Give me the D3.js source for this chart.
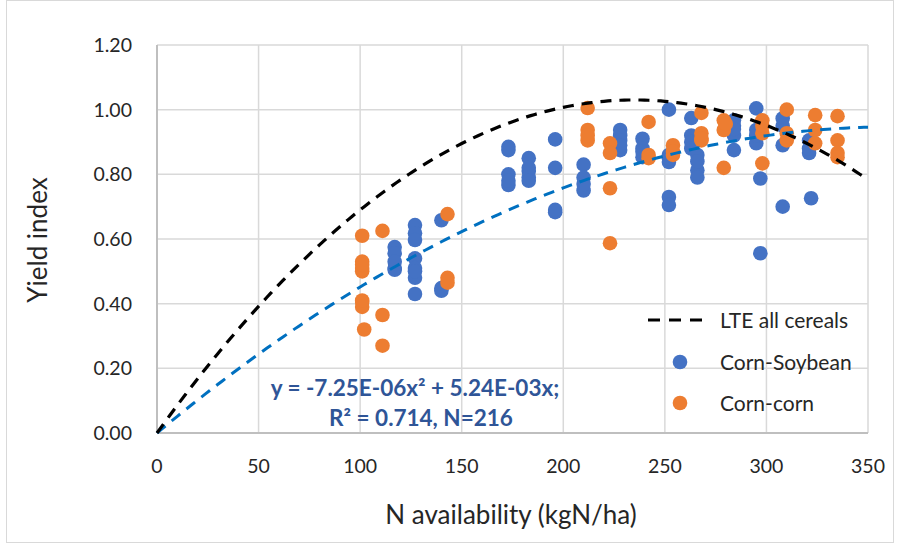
<!DOCTYPE html>
<html>
<head>
<meta charset="utf-8">
<script src="https://cdn.jsdelivr.net/npm/d3@7"></script>
<style>
  body { margin: 0; background: #fff; }
  svg text { font-family: Lato, "Open Sans", sans-serif; }
</style>
</head>
<body>
<div id="chart"></div>
<script>
// Corn-Soybean points (N availability, yield index)
const soyN = [117, 117, 117, 117, 117,
    127, 127, 127, 127, 127, 127, 127, 127,
    140, 140, 140,
    173, 173, 173, 173, 173,
    183, 183, 183, 183, 183,
    196, 196, 196, 196,
    210, 210, 210, 210,
    228, 228, 228, 228, 228,
    239, 239, 239, 239,
    252, 252, 252, 252, 252, 252,
    263, 263, 263, 263,
    266, 266, 266, 266,
    284, 284, 284, 284, 284,
    295, 295, 295, 295, 297, 297,
    308, 308, 308, 308,
    321, 321, 322, 321];
const soyYield = [0.575, 0.556, 0.51, 0.505, 0.53,
    0.643, 0.618, 0.597, 0.54, 0.51, 0.48, 0.43, 0.50,
    0.658, 0.448, 0.44,
    0.885, 0.875, 0.80, 0.767, 0.78,
    0.85, 0.81, 0.79, 0.82, 0.78,
    0.908, 0.82, 0.683, 0.69,
    0.83, 0.79, 0.75, 0.77,
    0.937, 0.92, 0.905, 0.875, 0.89,
    0.91, 0.853, 0.88, 0.87,
    1.0, 0.838, 0.85, 0.73, 0.705, 0.86,
    0.974, 0.92, 0.90, 0.88,
    0.86, 0.813, 0.79, 0.84,
    0.967, 0.92, 0.875, 0.95, 0.94,
    1.004, 0.937, 0.896, 0.92, 0.787, 0.556,
    0.973, 0.89, 0.70, 0.95,
    0.905, 0.866, 0.726, 0.88];

// Corn-corn points
const cornN = [101, 101, 101, 101, 101, 101, 102, 101, 101,
    111, 111, 111,
    143, 143, 143,
    212, 212, 212, 212,
    223, 223, 223, 223,
    242, 242, 242,
    254, 254, 254,
    268, 268, 268, 268,
    279, 279, 279, 280,
    298, 298, 298, 298,
    310, 310, 310,
    324, 324, 324,
    335, 335, 335, 335];
const cornYield = [0.61, 0.53, 0.51, 0.50, 0.405, 0.39, 0.32, 0.52, 0.41,
    0.625, 0.365, 0.27,
    0.677, 0.48, 0.465,
    1.005, 0.937, 0.905, 0.92,
    0.896, 0.866, 0.757, 0.587,
    0.962, 0.86, 0.85,
    0.89, 0.86, 0.87,
    0.99, 0.927, 0.905, 0.91,
    0.967, 0.937, 0.82, 0.956,
    0.967, 0.927, 0.834, 0.95,
    1.0, 0.927, 0.905,
    0.983, 0.937, 0.896,
    0.98, 0.905, 0.866, 0.853];

// quadratic curve coefficients [a, b] for y = a x^2 + b x
const lteCoef = [-1.865e-5, 8.766e-3];
const fitCoef = [-7.25e-6, 5.24e-3];

const xTicks = [0, 50, 100, 150, 200, 250, 300, 350];
const yTicks = [0, 0.2, 0.4, 0.6, 0.8, 1.0, 1.2];
const legendLabels = ['LTE all cereals', 'Corn-Soybean', 'Corn-corn'];
const equationLines = ['y = -7.25E-06x\u00b2 + 5.24E-03x;', 'R\u00b2 = 0.714, N=216'];

const width = 901, height = 545;
const margin = { top: 45, right: 33, bottom: 112, left: 157 };
const textColor = '#262626';

const svg = d3.select('#chart')
    .append('svg')
    .attr('width', width)
    .attr('height', height);

// outer chart frame
svg.append('rect')
    .attr('x', 6.5).attr('y', 0.5)
    .attr('width', 887).attr('height', 542)
    .attr('fill', '#fff')
    .attr('stroke', '#d9d9d9');

const x = d3.scaleLinear().domain([0, 350]).range([margin.left, width - margin.right]);
const y = d3.scaleLinear().domain([0, 1.2]).range([height - margin.bottom, margin.top]);

// gridlines
svg.append('g')
    .selectAll('line')
    .data(xTicks)
    .join('line')
    .attr('x1', d => x(d)).attr('x2', d => x(d))
    .attr('y1', y(0)).attr('y2', y(1.2))
    .attr('stroke', '#d9d9d9').attr('stroke-width', 1.5);

svg.append('g')
    .selectAll('line')
    .data(yTicks)
    .join('line')
    .attr('x1', x(0)).attr('x2', x(350))
    .attr('y1', d => y(d)).attr('y2', d => y(d))
    .attr('stroke', '#d9d9d9').attr('stroke-width', 1.5);

// axes lines
svg.append('line')
    .attr('x1', x(0)).attr('x2', x(0)).attr('y1', y(0)).attr('y2', y(1.2))
    .attr('stroke', '#bfbfbf').attr('stroke-width', 2);
svg.append('line')
    .attr('x1', x(0)).attr('x2', x(350)).attr('y1', y(0)).attr('y2', y(0))
    .attr('stroke', '#bfbfbf').attr('stroke-width', 2);

// tick labels
svg.append('g')
    .selectAll('text')
    .data(yTicks)
    .join('text')
    .attr('x', 132)
    .attr('y', d => y(d) + 7)
    .attr('text-anchor', 'end')
    .attr('font-size', 19.5)
    .attr('fill', textColor)
    .text(d => d3.format('.2f')(d));

svg.append('g')
    .selectAll('text')
    .data(xTicks)
    .join('text')
    .attr('x', d => x(d))
    .attr('y', y(0) + 40)
    .attr('text-anchor', 'middle')
    .attr('font-size', 19.5)
    .attr('fill', textColor)
    .text(d => d);

// axis titles
svg.append('text')
    .attr('x', 511).attr('y', 524)
    .attr('text-anchor', 'middle')
    .attr('font-size', 26)
    .attr('fill', textColor)
    .text('N availability (kgN/ha)');

svg.append('text')
    .attr('transform', `translate(47, 240) rotate(-90)`)
    .attr('text-anchor', 'middle')
    .attr('font-size', 26)
    .attr('fill', textColor)
    .text('Yield index');

// points
const soyData = soyN.map((n, i) => ({ n, v: soyYield[i] }));
const cornData = cornN.map((n, i) => ({ n, v: cornYield[i] }));

svg.append('g')
    .selectAll('circle')
    .data(soyData)
    .join('circle')
    .attr('cx', d => x(d.n))
    .attr('cy', d => y(d.v))
    .attr('r', 7.3)
    .attr('fill', '#4472c4');

svg.append('g')
    .selectAll('circle')
    .data(cornData)
    .join('circle')
    .attr('cx', d => x(d.n))
    .attr('cy', d => y(d.v))
    .attr('r', 7.3)
    .attr('fill', '#ed7d31');

// curves
const curveX = d3.range(0, 351, 2);
const line = d3.line().x(d => x(d[0])).y(d => y(d[1]));

svg.append('path')
    .datum(curveX.map(n => [n, fitCoef[0] * n * n + fitCoef[1] * n]))
    .attr('d', line)
    .attr('fill', 'none')
    .attr('stroke', '#0070c0')
    .attr('stroke-width', 3)
    .attr('stroke-dasharray', '11,8');

svg.append('path')
    .datum(curveX.map(n => [n, lteCoef[0] * n * n + lteCoef[1] * n]))
    .attr('d', line)
    .attr('fill', 'none')
    .attr('stroke', '#000')
    .attr('stroke-width', 3.2)
    .attr('stroke-dasharray', '11,8');

// equation text
svg.append('g')
    .selectAll('text')
    .data(equationLines)
    .join('text')
    .attr('x', (d, i) => i === 0 ? 415 : 421)
    .attr('y', (d, i) => 396 + i * 30)
    .attr('text-anchor', 'middle')
    .attr('font-size', 22.5)
    .attr('font-weight', 'bold')
    .attr('fill', '#2f5597')
    .text(d => d);

// legend
const legend = svg.append('g');
legend.append('line')
    .attr('x1', 648).attr('x2', 710).attr('y1', 320).attr('y2', 320)
    .attr('stroke', '#000').attr('stroke-width', 3.2)
    .attr('stroke-dasharray', '12,9');
legend.append('circle').attr('cx', 680).attr('cy', 362).attr('r', 7.3).attr('fill', '#4472c4');
legend.append('circle').attr('cx', 680).attr('cy', 403).attr('r', 7.3).attr('fill', '#ed7d31');
legend.selectAll('text')
    .data(legendLabels)
    .join('text')
    .attr('x', 720)
    .attr('y', (d, i) => 328 + i * 41.5)
    .attr('font-size', 21)
    .attr('fill', textColor)
    .text(d => d);
</script>
</body>
</html>
